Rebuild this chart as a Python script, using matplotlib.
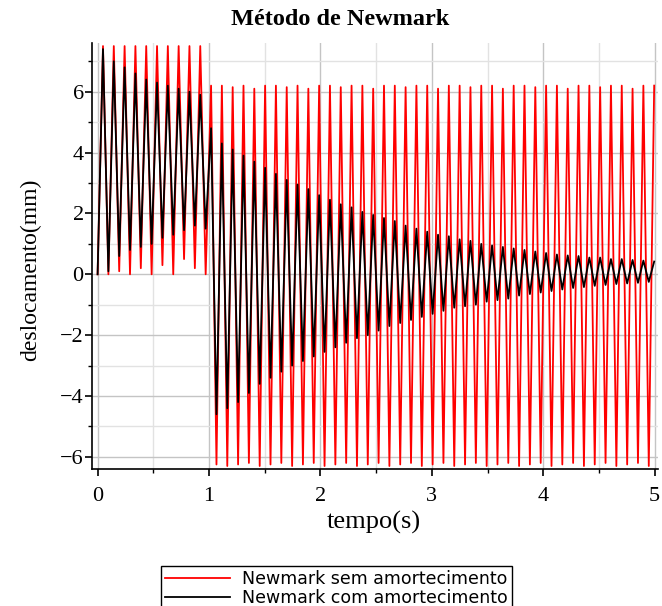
"""Newmark response: undamped vs damped displacement."""

import numpy as np
import matplotlib

matplotlib.use("Agg")
import matplotlib.pyplot as plt  # noqa: E402
from matplotlib.ticker import MultipleLocator  # noqa: E402

# time between successive extremes of the response (s)
HALF_PERIOD = 0.0485

# extremes (peak / trough) of the undamped response, in mm
RED_FORCED = [0.0, 7.5, 0.0, 7.5, 0.1, 7.5, 0.0, 7.5, 0.2, 7.5, 0.0,
              7.5, 0.3, 7.5, 0.0, 7.5, 0.5, 7.5, 0.2, 7.5, 0.0]
RED_FREE = [
    6.2, -6.25, 6.2, -6.3, 6.15, -6.25, 6.2, -6.2, 6.1, -6.3,
    6.2, -6.25, 6.2, -6.2, 6.15, -6.3, 6.2, -6.25, 6.1, -6.2,
    6.2, -6.3, 6.2, -6.25, 6.15, -6.2, 6.2, -6.3, 6.2, -6.25,
    6.1, -6.2, 6.2, -6.3, 6.2, -6.25, 6.15, -6.2, 6.2, -6.3,
    6.2, -6.25, 6.1, -6.2, 6.2, -6.3, 6.2, -6.25, 6.15, -6.2,
    6.2, -6.3, 6.2, -6.25, 6.1, -6.2, 6.2, -6.3, 6.2, -6.25,
    6.15, -6.2, 6.2, -6.3, 6.2, -6.25, 6.1, -6.2, 6.2, -6.3,
    6.2, -6.25, 6.15, -6.2, 6.2, -6.3, 6.2, -6.25, 6.1, -6.2,
    6.2, -6.3, 6.2,
]

# extremes of the damped response, in mm
BLACK_FORCED = [0.0, 7.4, 0.1, 7.0, 0.6, 6.8, 0.8, 6.6, 0.9, 6.4, 1.0,
                6.3, 1.2, 6.2, 1.3, 6.1, 1.45, 6.0, 1.6, 5.9, 1.5]
BLACK_FREE = [
    4.8, -4.6, 4.3, -4.4, 4.1, -4.2, 3.9, -3.9, 3.7, -3.6,
    3.5, -3.4, 3.3, -3.2, 3.1, -3.0, 2.95, -2.85, 2.8, -2.7,
    2.6, -2.55, 2.45, -2.4, 2.3, -2.25, 2.2, -2.1, 2.05, -2.0,
    1.95, -1.85, 1.85, -1.7, 1.75, -1.6, 1.6, -1.5, 1.5, -1.4,
    1.4, -1.3, 1.3, -1.2, 1.25, -1.1, 1.15, -1.05, 1.1, -1.0,
    1.0, -0.9, 0.95, -0.85, 0.9, -0.8, 0.85, -0.7, 0.8, -0.65,
    0.75, -0.6, 0.7, -0.55, 0.65, -0.5, 0.62, -0.45, 0.6, -0.42,
    0.55, -0.38, 0.55, -0.35, 0.5, -0.32, 0.5, -0.3, 0.47, -0.28,
    0.45, -0.25, 0.42,
]

LABELS = ["Newmark sem amortecimento", "Newmark com amortecimento"]
COLORS = ["#ff0000", "#000000"]
SERIF = ["Liberation Serif", "DejaVu Serif"]


def main() -> None:
    red = np.array(RED_FORCED + RED_FREE)
    black = np.array(BLACK_FORCED + BLACK_FREE)
    time = HALF_PERIOD * np.arange(len(red))

    fig = plt.figure(figsize=(6.62, 6.06), dpi=100)
    ax = fig.add_axes([0.139, 0.226, 0.855, 0.703])

    ax.plot(time, red, color=COLORS[0], linewidth=1.3, label=LABELS[0])
    ax.plot(time, black, color=COLORS[1], linewidth=1.3, label=LABELS[1])

    ax.set_xlim(-0.05, 5.03)
    ax.set_ylim(-6.4, 7.6)
    ax.xaxis.set_major_locator(MultipleLocator(1))
    ax.xaxis.set_minor_locator(MultipleLocator(0.5))
    ax.yaxis.set_major_locator(MultipleLocator(2))
    ax.yaxis.set_minor_locator(MultipleLocator(1))
    ax.grid(which="major", color="#c4c4c4", linewidth=1.0)
    ax.grid(which="minor", color="#e2e2e2", linewidth=1.0)
    ax.set_axisbelow(True)
    for side in ("top", "right"):
        ax.spines[side].set_visible(False)
    for side in ("left", "bottom"):
        ax.spines[side].set_linewidth(1.2)
    ax.tick_params(which="major", length=5, width=1.2, labelsize=16)
    ax.tick_params(which="minor", length=3, width=1.0)
    ax.tick_params(axis="x", pad=8)
    ax.tick_params(axis="y", pad=1)
    for label in ax.get_xticklabels() + ax.get_yticklabels():
        label.set_family(SERIF)

    fig.text(0.514, 0.967, "Método de Newmark", ha="center", va="center",
             family=SERIF, fontsize=17.5, fontweight="bold")
    fig.text(374 / 662, 1 - 522 / 606, "tempo(s)", ha="center", va="center",
             family=SERIF, fontsize=19)
    fig.text(31 / 662, 1 - 270 / 606, "deslocamento(mm)", ha="center",
             va="center", rotation=90, family=SERIF, fontsize=17)

    fig.legend(loc="upper center", bbox_to_anchor=(336.5 / 662, 40 / 606),
               ncol=1, frameon=True, fancybox=False, edgecolor="black",
               fontsize=12.5, handlelength=3.7, handletextpad=0.7,
               borderpad=0.25, labelspacing=0.05, borderaxespad=0.0,
               framealpha=1.0)

    fig.savefig("out.png", dpi=100)
    plt.close(fig)


if __name__ == "__main__":
    main()
